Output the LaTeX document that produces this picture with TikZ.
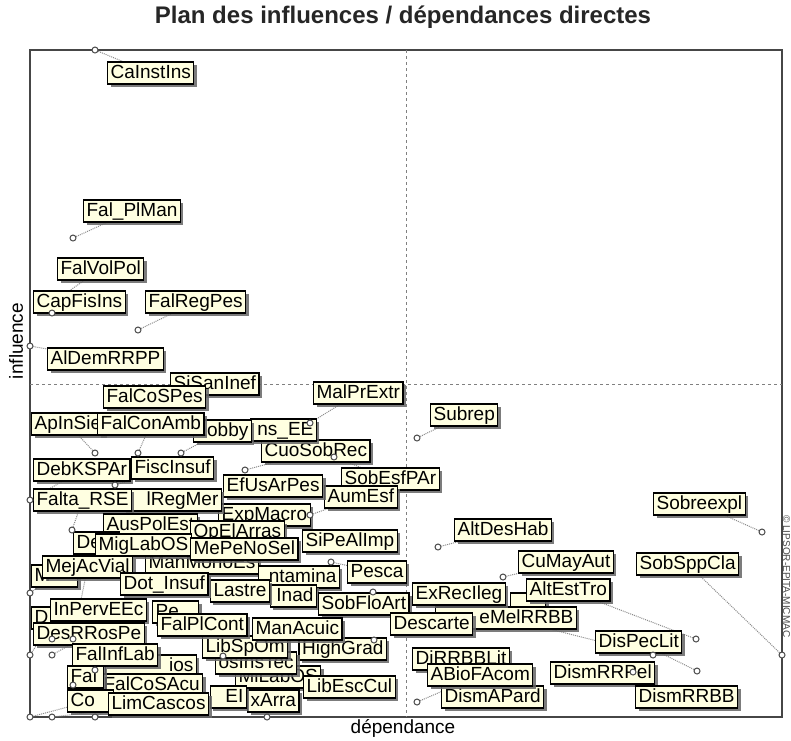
\documentclass[tikz,border=0pt]{standalone}
\usepackage{fontspec}
\setmainfont{Liberation Sans}
\usetikzlibrary{shadows,positioning}
\definecolor{cream}{RGB}{255,255,225}
\definecolor{framegray}{RGB}{70,70,70}
\pgfdeclarelayer{bg}
\pgfsetlayers{bg,main}
\tikzset{
    lbl/.style={draw=black, line width=1.2pt, fill=cream, anchor=west, inner xsep=3pt, inner ysep=2pt,
        text height=14pt, text depth=4pt, font=\fontsize{19}{21}\selectfont,
        drop shadow={shadow xshift=3pt, shadow yshift=-3pt, fill=black!60, opacity=.85}}, % one variable box
    cutw/.style={text width=#1}, % box partly hidden by the next ones
    dotpt/.style={circle, draw=black!70, fill=white, line width=1pt, inner sep=0pt, minimum size=6pt},
    link/.style={densely dotted, black!45, line width=1pt}
}
\begin{document}
\begin{tikzpicture}[x=1pt, y=-1pt]
\useasboundingbox (0,0) rectangle (791,740);
\begin{pgfonlayer}{bg}
    \fill[white] (0,0) rectangle (791,740);
    \draw[framegray, line width=1.5pt] (30,50) rectangle (782,717);
    \draw[black!50, dashed, line width=.8pt] (406,50) -- (406,717);
    \draw[black!50, dashed, line width=.8pt] (30,384) -- (782,384);
\end{pgfonlayer}
\node[font=\fontsize{24}{26}\selectfont\bfseries, text=black!85] (title) at (403,17) {Plan des influences / dépendances directes};
\node[font=\fontsize{19}{21}\selectfont, rotate=90] (yaxis) at (16,341) {influence};
\node[font=\fontsize{19}{21}\selectfont] (xaxis) at (403,728) {dépendance};
\node[font=\fontsize{10}{12}\selectfont, rotate=-90, anchor=west, inner sep=1pt, text=black!70] (copy) at (786.5,514) {© LIPSOR-EPITA-MICMAC};
% upper left quadrant
\node[lbl] (CaInstIns) at (107,73) {CaInstIns};
\node[lbl] (FalPlMan) at (83,211) {Fal\_PlMan};
\node[lbl] (FalVolPol) at (57,269) {FalVolPol};
\node[lbl] (CapFisIns) at (33,302) {CapFisIns};
\node[lbl] (FalRegPes) at (145,302) {FalRegPes};
\node[lbl] (AlDemRRPP) at (47,359) {AlDemRRPP};
\node[lbl] (SiSanInef) at (170,384) {SiSanInef};
\node[lbl] (FalCoSPes) at (103,397) {FalCoSPes};
\node[lbl] (MalPrExtr) at (313,393) {MalPrExtr};
% lower left quadrant
\node[lbl] (ApInSie) at (31,424) {ApInSie};
\node[lbl] (CuoSobRec) at (261,451) {CuoSobRec};
\node[lbl, anchor=east, cutw=60pt, align=right] (nsEE) at (317,430) {ns\_EE};
\node[lbl] (Lobby) at (193,431) {Lobby};
\node[lbl] (FalConAmb) at (97,424) {FalConAmb};
\node[lbl] (DebKSPAr) at (33,470) {DebKSPAr};
\node[lbl] (FiscInsuf) at (131,468) {FiscInsuf};
\node[lbl] (SobEsfPAr) at (341,479) {SobEsfPAr};
\node[lbl] (AumEsf) at (324,497) {AumEsf};
\node[lbl] (ExpMacro) at (218,515) {ExpMacro};
\node[lbl] (EfUsArPes) at (223,486) {EfUsArPes};
\node[lbl, anchor=east, cutw=92pt, align=right] (RegMer) at (222,500) {lRegMer};
\node[lbl] (FaltaRSE) at (33,500) {Falta\_RSE};
\node[lbl] (AusPolEst) at (103,525) {AusPolEst};
\node[lbl] (OpElArras) at (190,532) {OpElArras};
\node[lbl, cutw=40pt] (DeBox) at (73,543) {De};
\node[lbl] (ManMonoEs) at (145,563) {ManMonoEs};
\node[lbl] (MigLabOS) at (95,545) {MigLabOS};
\node[lbl] (MePeNoSel) at (190,549) {MePeNoSel};
\node[lbl] (SiPeAlImp) at (302,541) {SiPeAlImp};
\node[lbl, cutw=40pt] (MBox) at (31,576) {M};
\node[lbl] (MejAcVial) at (42,567) {MejAcVial};
\node[lbl, anchor=east, cutw=75pt, align=right] (Contamina) at (340,577) {ntamina};
\node[lbl] (Pesca) at (347,572) {Pesca};
\node[lbl, anchor=east, cutw=40pt, align=right] (Inad) at (317,596) {Inad};
\node[lbl, anchor=east, cutw=53pt, align=right] (Lastre) at (270,591) {Lastre};
\node[lbl] (DotInsuf) at (120,584) {Dot\_Insuf};
\node[lbl] (SobFloArt) at (318,604) {SobFloArt};
\node[lbl, cutw=40pt] (DBox) at (31,618) {D};
\node[lbl, cutw=40pt] (PeBox) at (152,612) {Pe};
\node[lbl] (InPervEEc) at (50,610) {InPervEEc};
\node[lbl] (DesRRosPe) at (33,634) {DesRRosPe};
\node[lbl, anchor=east] (HighGrad) at (387,649) {HighGrad};
\node[lbl] (MiLabOS) at (235,677) {MiLabOS};
\node[lbl] (osInsTec) at (215,663) {osInsTec};
\node[lbl] (LibSpOm) at (202,647) {LibSpOm};
\node[lbl] (FalPlCont) at (157,625) {FalPlCont};
\node[lbl] (ManAcuic) at (252,629) {ManAcuic};
\node[lbl] (LibEscCul) at (303,687) {LibEscCul};
\node[lbl, anchor=east, cutw=85pt, align=right] (iosBox) at (197,666) {ios};
\node[lbl] (FalInfLab) at (72,655) {FalInfLab};
\node[lbl] (FalCoSAcu) at (100,685) {FalCoSAcu};
\node[lbl, cutw=30pt] (FalBox) at (67,677) {Fal};
\node[lbl, cutw=40pt] (CoBox) at (67,701) {Co};
\node[lbl] (xArra) at (247,701) {xArra};
\node[lbl, anchor=east, cutw=30pt, align=right] (EIBox) at (247,697) {EI};
\node[lbl] (LimCascos) at (108,704) {LimCascos};
% right half
\node[lbl] (Subrep) at (430,415) {Subrep};
\node[lbl] (AltDesHab) at (454,530) {AltDesHab};
\node[lbl] (Sobreexpl) at (653,504) {Sobreexpl};
\node[lbl] (SobSppCla) at (636,564) {SobSppCla};
\node[lbl, minimum width=35pt] (HidBox) at (510,604) {};
\node[lbl] (AltEstTro) at (526,590) {AltEstTro};
\node[lbl] (CuMayAut) at (518,562) {CuMayAut};
\node[lbl, anchor=east, cutw=135pt, align=right] (DeMelRRBB) at (577,618) {eMelRRBB};
\node[lbl] (ExRecIleg) at (412,594) {ExRecIleg};
\node[lbl] (Descarte) at (390,624) {Descarte};
\node[lbl] (DisPecLit) at (595,642) {DisPecLit};
\node[lbl] (DismRRPel) at (550,673) {DismRRPel};
\node[lbl] (DismRRBB) at (635,697) {DismRRBB};
\node[lbl] (DiRRBBLit) at (412,659) {DiRRBBLit};
\node[lbl] (DismAPard) at (441,697) {DismAPard};
\node[lbl] (ABioFAcom) at (427,675) {ABioFAcom};
% points of the variables
\node[dotpt] (pCaInstIns) at (95,50) {};
\node[dotpt] (pFalPlMan) at (73,238) {};
\coordinate (pFalVolPol) at (56,300);
\node[dotpt] (pCapFisIns) at (52,313) {};
\node[dotpt] (pFalRegPes) at (138,330) {};
\node[dotpt] (pAlDemRRPP) at (30,346) {};
\node[dotpt] (pApInSie) at (95,453) {};
\node[dotpt] (pFalConAmb) at (138,453) {};
\node[dotpt] (pLobby) at (181,453) {};
\node[dotpt] (pMalPrExtr) at (310,423) {};
\node[dotpt] (pCuoSobRec) at (245,470) {};
\node[dotpt] (pSobEsfPAr) at (334,457) {};
\node[dotpt] (pDebKSPAr) at (30,500) {};
\node[dotpt] (pFiscInsuf) at (115,485) {};
\node[dotpt] (pFaltaRSE) at (72,530) {};
\node[dotpt] (pAumEsf) at (310,515) {};
\node[dotpt] (pMBox) at (30,593) {};
\node[dotpt] (pMejAcVial) at (73,639) {};
\node[dotpt] (pInPervEEc) at (52,639) {};
\node[dotpt] (pDBox) at (30,655) {};
\node[dotpt] (pDesRRosPe) at (52,655) {};
\node[dotpt] (pFalInfLab) at (95,670) {};
\node[dotpt] (pFalBox) at (73,685) {};
\node[dotpt] (pCoBox) at (30,717) {};
\node[dotpt] (pLimCascos) at (52,717) {};
\node[dotpt] (pFalCoSAcu) at (95,717) {};
\node[dotpt] (pPesca) at (331,562) {};
\node[dotpt] (pSobFloArt) at (373,592) {};
\node[dotpt] (pHighGrad) at (374,640) {};
\node[dotpt] (pLibSpOm) at (223,656) {};
\node[dotpt] (pxArra) at (267,717) {};
\node[dotpt] (pSubrep) at (417,438) {};
\node[dotpt] (pAltDesHab) at (438,547) {};
\node[dotpt] (pABioFAcom) at (417,702) {};
\node[dotpt] (pCuMayAut) at (503,577) {};
\node[dotpt] (pAltEstTro) at (696,639) {};
\node[dotpt] (pDisPecLit) at (697,671) {};
\node[dotpt] (pDeMelRRBB) at (653,655) {};
\node[dotpt] (pDismRRPel) at (633,672) {};
\node[dotpt] (pSobreexpl) at (762,532) {};
\node[dotpt] (pSobSppCla) at (782,655) {};
\begin{pgfonlayer}{bg}
    \draw[link] (pCaInstIns) -- (CaInstIns);
    \draw[link] (pFalPlMan) -- (FalPlMan);
    \draw[link] (pFalVolPol) -- (FalVolPol);
    \draw[link] (pCapFisIns) -- (CapFisIns);
    \draw[link] (pFalRegPes) -- (FalRegPes);
    \draw[link] (pAlDemRRPP) -- (AlDemRRPP);
    \draw[link] (pApInSie) -- (ApInSie);
    \draw[link] (pFalConAmb) -- (FalConAmb);
    \draw[link] (pLobby) -- (Lobby);
    \draw[link] (pMalPrExtr) -- (MalPrExtr);
    \draw[link] (pCuoSobRec) -- (CuoSobRec);
    \draw[link] (pSobEsfPAr) -- (SobEsfPAr);
    \draw[link] (pDebKSPAr) -- (DebKSPAr);
    \draw[link] (pFiscInsuf) -- (FiscInsuf);
    \draw[link] (pFaltaRSE) -- (FaltaRSE);
    \draw[link] (pAumEsf) -- (AumEsf);
    \draw[link] (pMBox) -- (MBox);
    \draw[link] (pMejAcVial) -- (MejAcVial);
    \draw[link] (pInPervEEc) -- (InPervEEc);
    \draw[link] (pDBox) -- (DBox);
    \draw[link] (pDesRRosPe) -- (DesRRosPe);
    \draw[link] (pFalInfLab) -- (FalInfLab);
    \draw[link] (pFalBox) -- (FalBox);
    \draw[link] (pCoBox) -- (CoBox);
    \draw[link] (pLimCascos) -- (LimCascos);
    \draw[link] (pFalCoSAcu) -- (FalCoSAcu);
    \draw[link] (pPesca) -- (Pesca);
    \draw[link] (pSobFloArt) -- (SobFloArt);
    \draw[link] (pHighGrad) -- (HighGrad);
    \draw[link] (pLibSpOm) -- (LibSpOm);
    \draw[link] (pxArra) -- (xArra);
    \draw[link] (pSubrep) -- (Subrep);
    \draw[link] (pAltDesHab) -- (AltDesHab);
    \draw[link] (pABioFAcom) -- (ABioFAcom);
    \draw[link] (pCuMayAut) -- (CuMayAut);
    \draw[link] (pAltEstTro) -- (AltEstTro);
    \draw[link] (pDisPecLit) -- (DisPecLit);
    \draw[link] (pDeMelRRBB) -- (DeMelRRBB);
    \draw[link] (pDismRRPel) -- (DismRRPel);
    \draw[link] (pSobreexpl) -- (Sobreexpl);
    \draw[link] (pSobSppCla) -- (SobSppCla);
\end{pgfonlayer}
\end{tikzpicture}
\end{document}
